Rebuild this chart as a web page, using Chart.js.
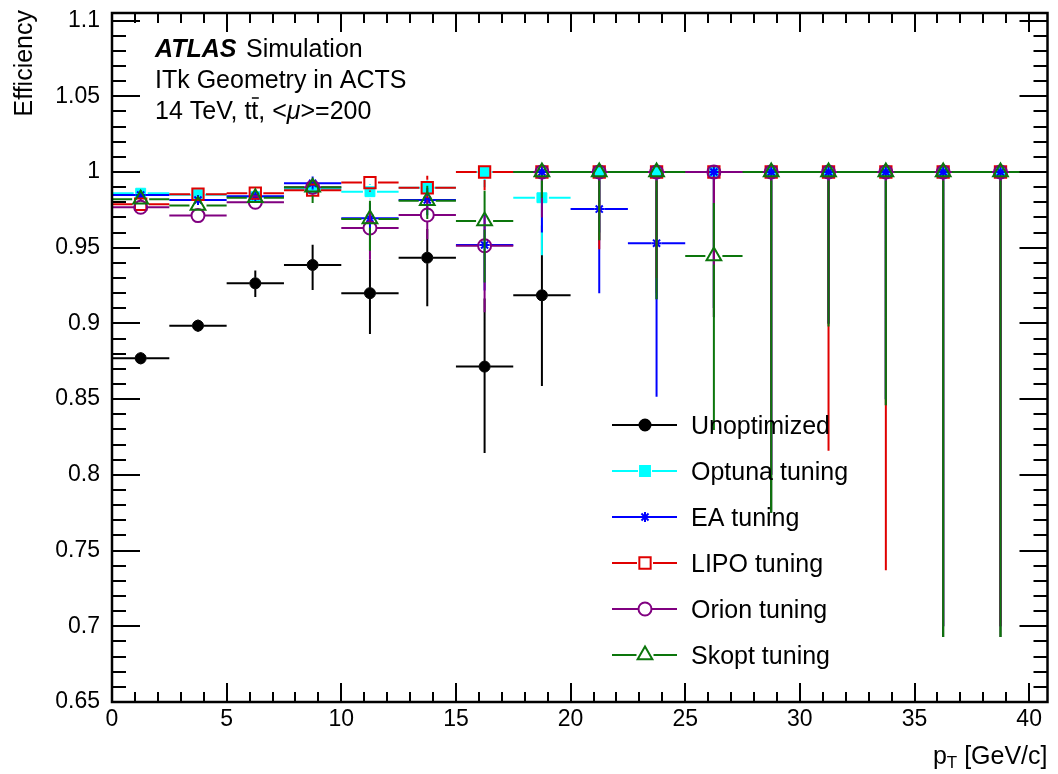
<!DOCTYPE html>
<html>
<head>
<meta charset="utf-8">
<script src="https://cdn.jsdelivr.net/npm/chart.js@4.4.1/dist/chart.umd.min.js"></script>
<style>
  html, body { margin: 0; padding: 0; background: #fff; }
  #wrap { width: 1058px; height: 774px; }
</style>
</head>
<body>
<div id="wrap"><canvas id="effChart" width="1058" height="774"></canvas></div>
<script>
// pT bins (GeV/c), 2.5 GeV wide
const ptCenters = [1.25, 3.75, 6.25, 8.75, 11.25, 13.75, 16.25, 18.75,
                   21.25, 23.75, 26.25, 28.75, 31.25, 33.75, 36.25, 38.75];
const ptHalfWidth = 1.25;

// efficiency values and asymmetric errors
const unoptEff     = [0.877, 0.8985, 0.9265, 0.9386, 0.920, 0.9434, 0.8715, 0.9186, 1, 1, 1, 1, 1, 1, 1, 1];
const unoptErrDown = [0.004, 0.004, 0.009, 0.0166, 0.027, 0.032, 0.057, 0.060, 0.045, 0.084, 0.096, 0.225, 0.10, 0.154, 0.307, 0.307];
const unoptErrUp   = [0.004, 0.004, 0.0085, 0.0134, 0.022, 0.019, 0.045, 0.046, 0, 0, 0, 0, 0, 0, 0, 0];

const optunaEff     = [0.986, 0.985, 0.9837, 0.989, 0.987, 0.9896, 1.0, 0.983, 1, 1, 1, 1, 1, 1, 1, 1];
const optunaErrDown = [0.003, 0.003, 0.003, 0.004, 0.005, 0.006, 0.010, 0.038, 0.040, 0.080, 0.090, 0.20, 0.10, 0.15, 0.30, 0.30];
const optunaErrUp   = [0.003, 0.003, 0.003, 0.004, 0.005, 0.005, 0, 0.017, 0, 0, 0, 0, 0, 0, 0, 0];

const eaEff     = [0.9848, 0.9815, 0.984, 0.9925, 0.9694, 0.9815, 0.9518, 1.0, 0.9755, 0.953, 1, 1, 1, 1, 1, 1];
const eaErrDown = [0.003, 0.003, 0.003, 0.004, 0.012, 0.010, 0.030, 0.040, 0.0555, 0.1014, 0.090, 0.20, 0.10, 0.15, 0.30, 0.30];
const eaErrUp   = [0.003, 0.003, 0.003, 0.0045, 0.010, 0.008, 0.020, 0, 0.020, 0.035, 0, 0, 0, 0, 0, 0];

const lipoEff     = [0.9787, 0.9853, 0.986, 0.988, 0.993, 0.9896, 1.0, 1, 1, 1, 1, 1, 1, 1, 1, 1];
const lipoErrDown = [0.003, 0.003, 0.003, 0.004, 0.006, 0.007, 0.012, 0.020, 0.051, 0.070, 0.090, 0.20, 0.184, 0.263, 0.30, 0.30];
const lipoErrUp   = [0.003, 0.003, 0.003, 0.003, 0.005, 0.008, 0, 0, 0, 0, 0, 0, 0, 0, 0, 0];

const orionEff     = [0.9767, 0.9712, 0.980, 0.990, 0.963, 0.9716, 0.9513, 1, 1, 1, 1, 1, 1, 1, 1, 1];
const orionErrDown = [0.004, 0.004, 0.004, 0.005, 0.021, 0.016, 0.044, 0.030, 0.040, 0.080, 0.096, 0.20, 0.10, 0.15, 0.30, 0.30];
const orionErrUp   = [0.004, 0.004, 0.004, 0.004, 0.012, 0.010, 0.020, 0, 0, 0, 0, 0, 0, 0, 0, 0];

const skoptEff     = [0.982, 0.9778, 0.983, 0.990, 0.969, 0.981, 0.9676, 1, 1, 1, 0.9445, 1, 1, 1, 1, 1];
const skoptErrDown = [0.004, 0.004, 0.004, 0.0105, 0.021, 0.012, 0.0406, 0.017, 0.045, 0.084, 0.1149, 0.225, 0.102, 0.154, 0.307, 0.307];
const skoptErrUp   = [0.004, 0.004, 0.004, 0.005, 0.012, 0.010, 0.020, 0, 0, 0, 0.035, 0, 0, 0, 0, 0];

const xTicks = [0, 5, 10, 15, 20, 25, 30, 35, 40];
const yTicks = [0.65, 0.7, 0.75, 0.8, 0.85, 0.9, 0.95, 1, 1.05, 1.1];

const FONT = "'Liberation Sans', Arial, Helvetica, sans-serif";

//one entry per curve, in ROOT draw order (first = bottom)
const series = [
    { label: 'Unoptimized',   vals: unoptEff,  lo: unoptErrDown,  hi: unoptErrUp,  color: '#000000', style: 'circle',   r: 5.5, fill: true },
    { label: 'Optuna tuning', vals: optunaEff, lo: optunaErrDown, hi: optunaErrUp, color: '#00ffff', style: 'rect',     r: 7,   fill: true },
    { label: 'EA tuning',     vals: eaEff,     lo: eaErrDown,     hi: eaErrUp,     color: '#0000ff', style: 'star',     r: 5,   fill: false },
    { label: 'LIPO tuning',   vals: lipoEff,   lo: lipoErrDown,   hi: lipoErrUp,   color: '#e00000', style: 'rect',     r: 8,   fill: false },
    { label: 'Orion tuning',  vals: orionEff,  lo: orionErrDown,  hi: orionErrUp,  color: '#800080', style: 'circle',   r: 6.5, fill: false },
    { label: 'Skopt tuning',  vals: skoptEff,  lo: skoptErrDown,  hi: skoptErrUp,  color: '#0c760c', style: 'triangle', r: 8.5, fill: false }
];

let datasets = series.map((s, k) => ({
    label: s.label,
    data: ptCenters.map((x, i) => ({ x: x, y: s.vals[i], lo: s.lo[i], hi: s.hi[i] })),
    showLine: false,
    pointStyle: s.style,
    pointRadius: s.r,
    pointHoverRadius: s.r,
    pointBorderWidth: s.fill ? 1 : 2,
    pointBorderColor: s.color,
    pointBackgroundColor: s.fill ? s.color : 'rgba(0,0,0,0)',
    errColor: s.color,
    gap: s.r,
    order: series.length - k
}));

//error bars, drawn just before each dataset's markers so layering follows draw order
const errorBars = {
    id: 'errorBars',
    beforeDatasetDraw(chart, args) {
        const ds = chart.data.datasets[args.index];
        const xs = chart.scales.x, ys = chart.scales.y;
        const ctx = chart.ctx;
        const a = chart.chartArea;
        ctx.save();
        ctx.beginPath();
        ctx.rect(a.left, a.top, a.right - a.left, a.bottom - a.top);
        ctx.clip();
        ctx.strokeStyle = ds.errColor;
        ctx.lineWidth = 2;
        ctx.beginPath();
        ds.data.forEach(p => {
            const px = xs.getPixelForValue(p.x);
            const py = ys.getPixelForValue(p.y);
            const xl = xs.getPixelForValue(p.x - ptHalfWidth);
            const xr = xs.getPixelForValue(p.x + ptHalfWidth);
            const yb = ys.getPixelForValue(p.y - p.lo);
            const yt = ys.getPixelForValue(p.y + p.hi);
            const g = ds.gap;
            ctx.moveTo(xl, py); ctx.lineTo(px - g, py);
            ctx.moveTo(px + g, py); ctx.lineTo(xr, py);
            if (yb > py + g) { ctx.moveTo(px, py + g); ctx.lineTo(px, yb); }
            if (yt < py - g) { ctx.moveTo(px, py - g); ctx.lineTo(px, yt); }
        });
        ctx.stroke();
        ctx.restore();
    }
};

//ROOT style frame with inward ticks on all four sides
const frameTicks = {
    id: 'frameTicks',
    afterDraw(chart) {
        const ctx = chart.ctx;
        const a = chart.chartArea;
        const xs = chart.scales.x, ys = chart.scales.y;
        ctx.save();
        ctx.strokeStyle = '#000';
        ctx.lineWidth = 2;
        ctx.beginPath();
        for (let v = 0; v <= 40.0001; v += 1) {
            const px = Math.round(xs.getPixelForValue(v));
            const len = (Math.round(v) % 5 === 0) ? 19 : 10;
            ctx.moveTo(px, a.bottom); ctx.lineTo(px, a.bottom - len);
            ctx.moveTo(px, a.top); ctx.lineTo(px, a.top + len);
        }
        for (let i = 0; i <= 45; i++) {
            const v = 0.65 + i * 0.01;
            const py = Math.round(ys.getPixelForValue(v));
            const len = (i % 5 === 0) ? 28 : 14;
            ctx.moveTo(a.left, py); ctx.lineTo(a.left + len, py);
            ctx.moveTo(a.right, py); ctx.lineTo(a.right - len, py);
        }
        ctx.stroke();
        ctx.lineWidth = 2.5;
        ctx.strokeRect(a.left, a.top, a.right - a.left, a.bottom - a.top);
        ctx.restore();
    }
};

//legend, ATLAS label and axis titles
const labels = {
    id: 'labels',
    afterDraw(chart) {
        const ctx = chart.ctx;
        const a = chart.chartArea;
        ctx.save();
        ctx.fillStyle = '#000';
        ctx.textBaseline = 'alphabetic';

        // ATLAS block
        ctx.font = 'italic bold 25px ' + FONT;
        ctx.fillText('ATLAS', 155, 57);
        ctx.font = '25px ' + FONT;
        ctx.fillText('Simulation', 246, 57);
        ctx.fillText('ITk Geometry in ACTS', 155, 88);
        let x = 155;
        const y3 = 119;
        const part1 = '14 TeV, t';
        ctx.fillText(part1, x, y3);
        x += ctx.measureText(part1).width;
        const tw = ctx.measureText('t').width;
        ctx.fillText('t', x, y3);
        ctx.lineWidth = 1.5;
        ctx.strokeStyle = '#000';
        ctx.beginPath();
        ctx.moveTo(x + 0.5, y3 - 21); ctx.lineTo(x + tw + 0.5, y3 - 21);
        ctx.stroke();
        x += tw;
        ctx.fillText(', <', x, y3);
        x += ctx.measureText(', <').width;
        ctx.font = 'italic 25px ' + FONT;
        ctx.fillText('\u03bc', x, y3);
        x += ctx.measureText('\u03bc').width;
        ctx.font = '25px ' + FONT;
        ctx.fillText('>=200', x, y3);

        // y title, aligned to the top of the axis
        ctx.save();
        ctx.translate(32, 10);
        ctx.rotate(-Math.PI / 2);
        ctx.font = '25px ' + FONT;
        ctx.textAlign = 'right';
        ctx.fillText('Efficiency', 0, 0);
        ctx.restore();

        // x title, aligned to the right end
        ctx.font = '25px ' + FONT;
        const tail = ' [GeV/c]';
        const wTail = ctx.measureText(tail).width;
        const wP = ctx.measureText('p').width;
        ctx.font = '17px ' + FONT;
        const wT = ctx.measureText('T').width;
        let xr = a.right - wTail - wT - wP;
        const yx = 764;
        ctx.font = '25px ' + FONT;
        ctx.fillText('p', xr, yx);
        ctx.font = '17px ' + FONT;
        ctx.fillText('T', xr + wP, yx + 4);
        ctx.font = '25px ' + FONT;
        ctx.fillText(tail, xr + wP + wT, yx);

        // legend
        const lx0 = 612, lx1 = 677, mx = 645, tx = 691;
        series.forEach((s, k) => {
            const ry = 425 + k * 46;
            ctx.strokeStyle = s.color;
            ctx.lineWidth = 2;
            ctx.beginPath();
            ctx.moveTo(lx0, ry); ctx.lineTo(mx - s.r, ry);
            ctx.moveTo(mx + s.r, ry); ctx.lineTo(lx1, ry);
            ctx.stroke();
            ctx.fillStyle = s.fill ? s.color : 'rgba(0,0,0,0)';
            Chart.helpers.drawPoint(ctx, {
                pointStyle: s.style, radius: s.r, rotation: 0,
                borderWidth: s.fill ? 1 : 2
            }, mx, ry);
            ctx.fillStyle = '#000';
            ctx.font = '25px ' + FONT;
            ctx.fillText(s.label, tx, ry + 9);
        });
        ctx.restore();
    }
};

const tickFont = { family: FONT, size: 23 };

const config = {
    type: 'scatter',
    data: { datasets: datasets },
    options: {
        responsive: false,
        devicePixelRatio: 1,
        animation: false,
        layout: { padding: { top: 13, right: 7, left: 0, bottom: 0 } },
        plugins: {
            legend: { display: false },
            tooltip: { enabled: false }
        },
        scales: {
            x: {
                type: 'linear',
                min: 0,
                max: 40.8,
                afterBuildTicks: s => { s.ticks = xTicks.map(v => ({ value: v })); },
                afterFit: s => {
                    s.height = 72;
                    s.paddingLeft = 0; s.paddingRight = 0;
                },
                grid: { display: false, drawTicks: false },
                border: { display: false },
                ticks: {
                    autoSkip: false, maxRotation: 0, padding: 4,
                    color: '#000', font: tickFont,
                    callback: v => String(v)
                }
            },
            y: {
                type: 'linear',
                min: 0.65,
                max: 1.105,
                afterBuildTicks: s => { s.ticks = yTicks.map(v => ({ value: v })); },
                afterFit: s => {
                    s.width = 112;
                    s.paddingTop = 0; s.paddingBottom = 0;
                },
                grid: { display: false, drawTicks: false },
                border: { display: false },
                ticks: {
                    autoSkip: false, padding: 12,
                    color: '#000', font: tickFont,
                    callback: v => String(Number(v.toFixed(2)))
                }
            }
        }
    },
    plugins: [errorBars, frameTicks, labels]
};

const myChart = new Chart(document.getElementById('effChart'), config);
</script>
</body>
</html>
